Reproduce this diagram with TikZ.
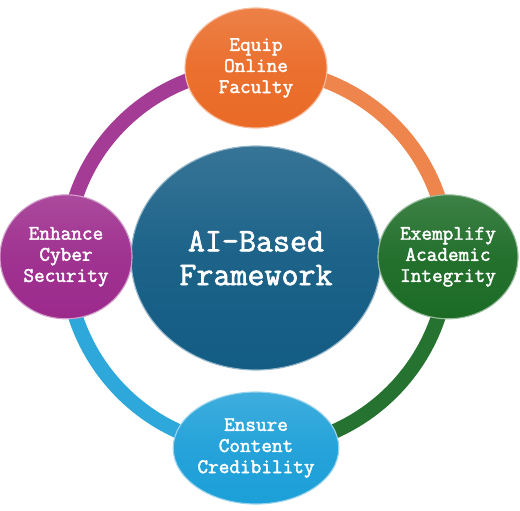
\documentclass[tikz,border=0pt]{standalone}
\usepackage{fontspec}
\newfontfamily\ballfont[FakeBold=2]{Latin Modern Mono}
\usetikzlibrary{shapes.geometric,backgrounds}
\definecolor{hubblue}{HTML}{135C84}
\definecolor{equiporange}{HTML}{EA6A26}
\definecolor{integgreen}{HTML}{1B6B25}
\definecolor{cyberpurple}{HTML}{9C2A8C}
\definecolor{credblue}{HTML}{1C9FD8}
\tikzset{
  ball/.style={ellipse, inner sep=0pt, text=white, align=center,
    font=\ballfont\fontsize{14.7}{15}\selectfont,
    top color=#1!85!white, bottom color=#1, middle color=#1!96!white,
    draw=#1!45!white, line width=0.8pt},
  ring/.style={line width=10.5pt, draw=#1}
}

\begin{document}
\begin{tikzpicture}
	\useasboundingbox (0,0) rectangle (13,12.75);
	\node[ball=hubblue, minimum width=6.25cm, minimum height=5.6cm,
	  font=\ballfont\fontsize{23.5}{24}\selectfont] (hub) at (6.4,6.3) {AI-Based\\Framework};
	\node[ball=equiporange, minimum width=3.55cm, minimum height=3cm] (equip) at (6.4,11.05) {Equip\\Online\\Faculty};%top
	\node[ball=integgreen, minimum width=3.5cm, minimum height=3.1cm] (integ) at (11.2,6.33) {Exemplify\\Academic\\Integrity};%right
	\node[ball=credblue, minimum width=3.4cm, minimum height=2.8cm] (cred) at (6.4,1.55) {Ensure\\Content\\Credibility};%bottom
	\node[ball=cyberpurple, minimum width=3.3cm, minimum height=3.1cm] (cyber) at (1.65,6.33) {Enhance\\Cyber\\Security};%left
	\begin{scope}[on background layer]
	\draw[ring=cyberpurple!92!white] (cyber.center) to[out=90, in=180] (equip.center);
	\draw[ring=equiporange!82!white] (equip.center) to[out=0, in=90] (integ.center);
	\draw[ring=integgreen!95!white] (integ.center) to[out=-90, in=0] (cred.center);
	\draw[ring=credblue!92!white] (cred.center) to[out=180, in=-90] (cyber.center);
	\end{scope}
\end{tikzpicture}
\end{document}
